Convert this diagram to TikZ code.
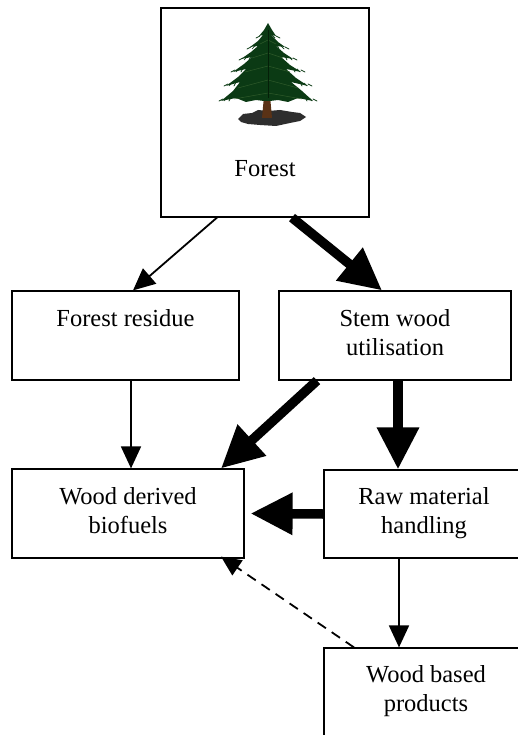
\documentclass[tikz,border=0pt]{standalone}
\usepackage{fontspec}
\setmainfont{Liberation Serif}
\newfontfamily\labelfont{Liberation Serif}
\usetikzlibrary{arrows.meta,calc}
\definecolor{firgreen}{HTML}{0B3A14}
\definecolor{firdark}{HTML}{041F08}
\definecolor{firlight}{HTML}{2F5A2A}
\definecolor{trunkbrown}{HTML}{5A3216}
\definecolor{shadowgray}{HTML}{2E2E2E}
\tikzset{
  box/.style={draw=black, line width=1.2pt, fill=white, minimum width=#1, inner sep=0pt},
  lbl/.style={font=\labelfont\fontsize{24.5}{29}\selectfont, align=center, inner sep=0pt, anchor=north},
  thin/.style={line width=1.8pt, -{Triangle[length=22pt,width=20pt]}},
  thick/.style={line width=9.5pt, -{Triangle[length=42pt,width=40pt]}},
  dashedarrow/.style={line width=1.8pt, dash pattern=on 10pt off 7pt, -{Triangle[length=20pt,width=18pt]}},
  needle/.style={firgreen, line width=0.7pt, line cap=round},
}
\begin{document}
\begin{tikzpicture}[x=1pt,y=-1pt]
\useasboundingbox (0,0) rectangle (518,735);
\clip (0,0) rectangle (518,735);

% boxes
\node[box=208pt, minimum height=209pt] (forest) at (265,112.5) {};
\node[box=227pt, minimum height=89pt] (residue) at (125.5,335.5) {};
\node[box=232pt, minimum height=89pt] (stem) at (395,335.5) {};
\node[box=232pt, minimum height=89pt] (biofuels) at (128,513.5) {};
\node[box=200pt, minimum height=88pt] (raw) at (424,514) {};
\node[box=200pt, minimum height=110pt] (based) at (424,703) {};

% tree
\begin{scope}
\fill[shadowgray] (238,119) -- (243,114) -- (252,113) -- (258,110) -- (268,111) -- (280,110) -- (292,112) -- (300,113) -- (306,117) -- (300,121) -- (290,123) -- (276,126) -- (260,125) -- (248,124) -- (241,122) -- cycle;
\fill[trunkbrown] (264,96) -- (270,96) -- (272,118) -- (262,118) -- cycle;
\fill[firgreen]
 (268,23) -- (272,30) -- (276,36) -- (271,35)
 -- (278,42) -- (285,47) -- (276,46)
 -- (284,53) -- (293,59) -- (281,57)
 -- (290,65) -- (301,72) -- (286,69)
 -- (296,78) -- (308,86) -- (291,82)
 -- (302,91) -- (313,101) -- (298,98) -- (288,102) -- (278,100) -- (270,101)
 -- (264,101) -- (256,100) -- (246,102) -- (236,98) -- (221,101)
 -- (233,91) -- (240,82) -- (226,86)
 -- (238,77) -- (246,69) -- (233,72)
 -- (244,64) -- (252,57) -- (241,59)
 -- (251,52) -- (258,46) -- (250,47)
 -- (258,41) -- (263,35) -- (259,36)
 -- (264,30) -- cycle;
% needle fringes
\foreach \y/\w in {36/8, 47/17, 58/25, 70/33, 84/40, 99/45}{
  \draw[needle] (268+\w,\y) -- ++(4,2) (268+\w-4,\y-1) -- ++(3,3) (268+\w-8,\y-2) -- ++(2,4);
  \draw[needle] (268-\w,\y) -- ++(-4,2) (268-\w+4,\y-1) -- ++(-3,3) (268-\w+8,\y-2) -- ++(-2,4);
}
\draw[firlight, line width=0.5pt]
 (268,40) -- (276,44) (268,40) -- (260,44)
 (268,53) -- (283,58) (268,53) -- (252,58)
 (268,66) -- (290,72) (268,66) -- (245,72)
 (268,80) -- (298,88) (268,80) -- (238,88)
 (268,93) -- (302,99) (268,93) -- (234,99);
\draw[firdark, line width=0.8pt] (268,30) -- (268,98);
\end{scope}

% labels
\node[lbl] (forestlbl) at (265,176-20.3) {\strut Forest};
\node[lbl] (residuelbl) at (125.5,326-20.3) {\strut Forest residue};
\node[lbl] (stemlbl) at (395,326-20.3) {\strut Stem wood\\\strut utilisation};
\node[lbl] (biofuelslbl) at (128,504-20.3) {\strut Wood derived\\\strut biofuels};
\node[lbl] (rawlbl) at (424,504-20.3) {\strut Raw material\\\strut handling};
\node[lbl] (basedlbl) at (426,682-20.3) {\strut Wood based\\\strut products};

% connectors
\draw[thin] ([xshift=-48pt]forest.south) -- ([xshift=7.5pt]residue.north);
\draw[thick] ([xshift=27pt]forest.south) -- ([xshift=-13pt]stem.north);
\coordinate (r1) at ([xshift=5.5pt]residue.south);
\draw[thin] (r1) -- (r1 |- biofuels.north);
\draw[thick] ([xshift=-78pt]stem.south) -- ([xshift=93pt]biofuels.north);
\coordinate (s1) at ([xshift=3pt]stem.south);
\draw[thick] (s1) -- (s1 |- raw.north);
\draw[thick] (raw.west) -- ([xshift=6pt]biofuels.east);
\coordinate (w1) at ([xshift=-25pt]raw.south);
\draw[thin] (w1) -- (w1 |- based.north);
\draw[dashedarrow] ([xshift=-70pt]based.north) -- ([xshift=93pt,yshift=2pt]biofuels.south);
\end{tikzpicture}
\end{document}
